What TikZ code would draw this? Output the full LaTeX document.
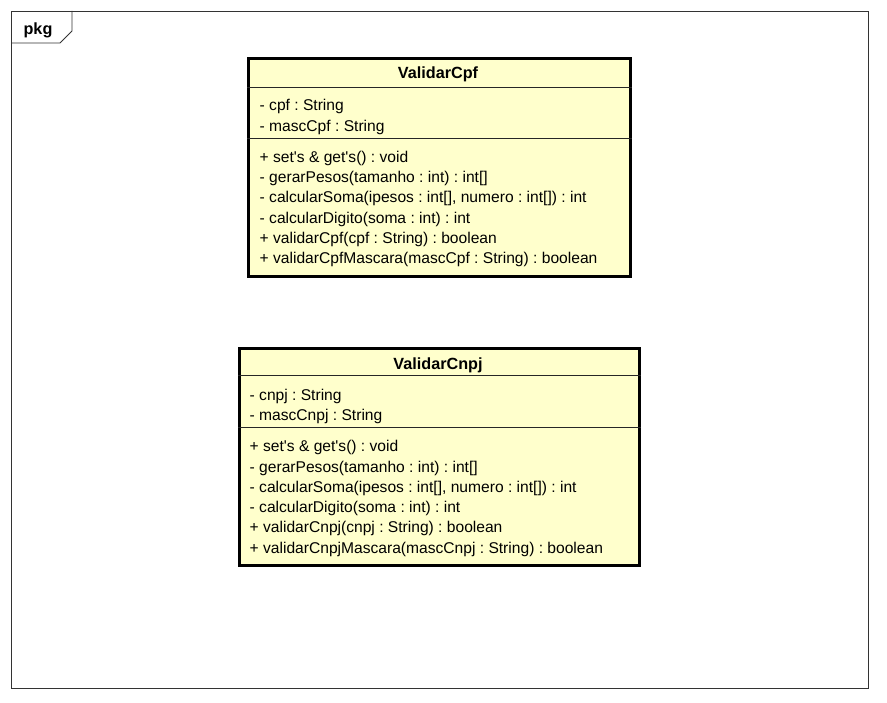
\documentclass[tikz,border=0pt]{standalone}
\usepackage{fontspec}
\setmainfont{Liberation Sans}
\usetikzlibrary{positioning}
\definecolor{classfill}{HTML}{FFFFCC}
\frenchspacing
\tikzset{
  frameline/.style={draw=black!80,line width=0.9pt},
  classbox/.style={draw,fill=classfill,line width=2.6pt,inner sep=0pt,anchor=north west},
  sepline/.style={line width=1pt,draw=black!85},
  classtitle/.style={anchor=base,inner sep=0pt,font=\fontsize{16.2}{19}\selectfont\bfseries},
  member/.style={anchor=base west,inner sep=0pt,font=\fontsize{15.6}{18}\selectfont}
}

\begin{document}
\begin{tikzpicture}[x=1pt,y=-1pt]
\useasboundingbox[fill=white] (0,0) rectangle (887,703);
% package frame with its tab
\draw[frameline] (11,11) rectangle (868,688);
\draw[frameline] (11,43) -- ++(49,0) -- (72,31) -- (72,11);
\node[classtitle] (pkgname) at (38,35) {pkg};

% class ValidarCpf
\node[classbox,minimum width=382pt,minimum height=218pt] (cpfbox) at (247,57) {};
\node[classtitle] (cpftitle) at (438,79) {ValidarCpf};
\draw[sepline] (cpfbox.west |- 0,88) -- (cpfbox.east |- 0,88);
\draw[sepline] (cpfbox.west |- 0,139) -- (cpfbox.east |- 0,139);
\node[member] (cpfattr1) at (259.5,111) {- cpf : String};
\node[member] (cpfattr2) at (259.5,131.5) {- mascCpf : String};
\node[member] (cpfop1) at (259.5,162.3) {+ set\textquotesingle s \& get\textquotesingle s() : void};
\node[member] (cpfop2) at (259.5,182.6) {- gerarPesos(tamanho : int) : int[]};
\node[member] (cpfop3) at (259.5,202.9) {- calcularSoma(ipesos : int[], numero : int[]) : int};
\node[member] (cpfop4) at (259.5,223.2) {- calcularDigito(soma : int) : int};
\node[member] (cpfop5) at (259.5,243.5) {+ validarCpf(cpf : String) : boolean};
\node[member] (cpfop6) at (259.5,263.8) {+ validarCpfMascara(mascCpf : String) : boolean};

% class ValidarCnpj
\node[classbox,minimum width=400pt,minimum height=217pt] (cnpjbox) at (238,347) {};
\node[classtitle] (cnpjtitle) at (438,369.3) {ValidarCnpj};
\draw[sepline] (cnpjbox.west |- 0,376) -- (cnpjbox.east |- 0,376);
\draw[sepline] (cnpjbox.west |- 0,428) -- (cnpjbox.east |- 0,428);
\node[member] (cnpjattr1) at (249.5,400.6) {- cnpj : String};
\node[member] (cnpjattr2) at (249.5,420.8) {- mascCnpj : String};
\node[member] (cnpjop1) at (249.5,451.7) {+ set\textquotesingle s \& get\textquotesingle s() : void};
\node[member] (cnpjop2) at (249.5,472) {- gerarPesos(tamanho : int) : int[]};
\node[member] (cnpjop3) at (249.5,492.3) {- calcularSoma(ipesos : int[], numero : int[]) : int};
\node[member] (cnpjop4) at (249.5,512.6) {- calcularDigito(soma : int) : int};
\node[member] (cnpjop5) at (249.5,532.9) {+ validarCnpj(cnpj : String) : boolean};
\node[member] (cnpjop6) at (249.5,553.2) {+ validarCnpjMascara(mascCnpj : String) : boolean};
\end{tikzpicture}
\end{document}
